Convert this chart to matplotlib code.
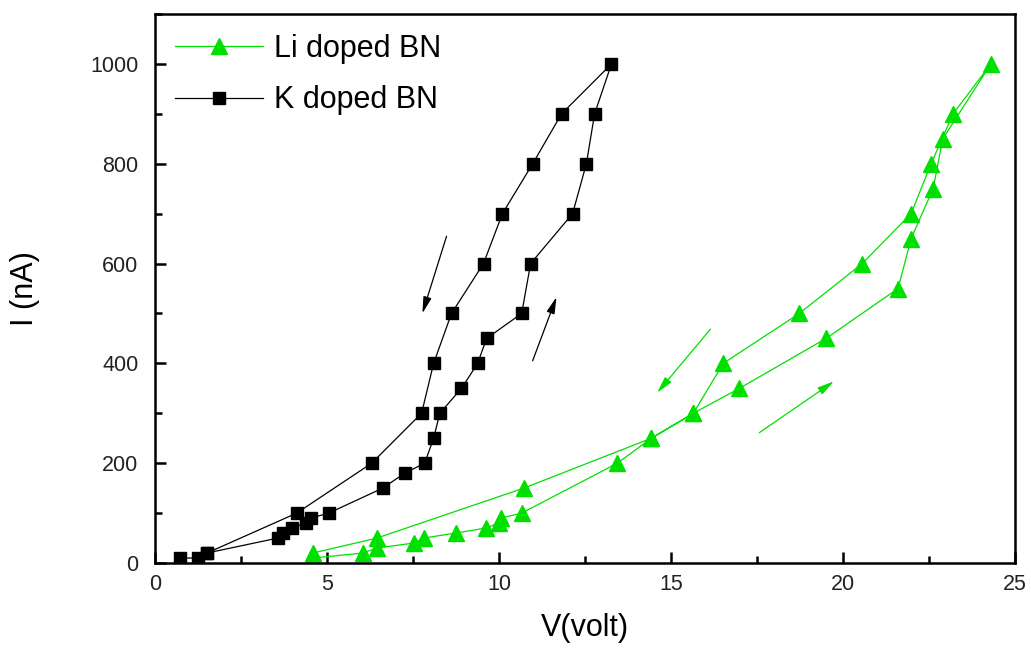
import matplotlib
matplotlib.use("Agg")
import matplotlib.pyplot as plt
from matplotlib.ticker import MultipleLocator

plt.rcParams['font.family'] = ['Liberation Sans', 'DejaVu Sans']

# Li doped BN: up sweep then down sweep (V in volt, I in nA)
li_v = [4.59, 6.04, 6.45, 7.52, 7.81, 8.74, 9.61, 10.0, 10.05, 10.66,
        13.44, 14.43, 15.65, 16.99, 19.51, 21.6, 21.98, 22.62, 22.9, 24.3,
        23.2, 22.56, 21.98, 20.56, 18.73, 16.52, 15.65, 14.43, 10.72, 6.45, 4.59]
li_i = [10, 20, 30, 40, 50, 60, 70, 80, 90, 100,
        200, 250, 300, 350, 450, 550, 650, 750, 850, 1000,
        900, 800, 700, 600, 500, 400, 300, 250, 150, 50, 20]

# K doped BN: up sweep then down sweep
k_v = [0.73, 1.25, 1.51, 3.57, 3.72, 3.98, 4.38, 4.53, 5.05, 6.62, 7.26, 7.84,
       8.1, 8.28, 8.91, 9.38, 9.64, 10.66, 10.92, 12.14, 12.54, 12.78, 13.27,
       11.82, 10.98, 10.1, 9.55, 8.62, 8.1, 7.75, 6.3, 4.12, 1.51]
k_i = [10, 10, 20, 50, 60, 70, 80, 90, 100, 150, 180, 200,
       250, 300, 350, 400, 450, 500, 600, 700, 800, 900, 1000,
       900, 800, 700, 600, 500, 400, 300, 200, 100, 20]

# sweep direction arrows: (tail, head)
k_arrows = [((8.5, 660), (7.75, 495)), ((10.95, 400), (11.7, 538))]
li_arrows = [((16.2, 473), (14.55, 337)), ((17.5, 258), (19.8, 367))]

green = '#00e000'

fig = plt.figure(figsize=(10.31, 6.5), dpi=100)
ax = fig.add_axes([0.1503, 0.1338, 0.8342, 0.8447])

ax.plot(li_v, li_i, color=green, lw=0.9, marker='^', ms=12,
        mfc=green, mec=green, label='Li doped BN')
ax.plot(k_v, k_i, color='black', lw=0.9, marker='s', ms=9,
        mfc='black', mec='black', label='K doped BN')

arrow_style = '-|>,head_length=1.0,head_width=0.25'
for tail, head in k_arrows:
    ax.annotate('', xy=head, xytext=tail,
                arrowprops=dict(arrowstyle=arrow_style, color='black', lw=0.9))
for tail, head in li_arrows:
    ax.annotate('', xy=head, xytext=tail,
                arrowprops=dict(arrowstyle=arrow_style, color=green, lw=0.9))

ax.set_xlim(0, 25)
ax.set_ylim(0, 1100)
ax.xaxis.set_major_locator(MultipleLocator(5))
ax.xaxis.set_minor_locator(MultipleLocator(2.5))
ax.yaxis.set_major_locator(MultipleLocator(200))
ax.yaxis.set_minor_locator(MultipleLocator(100))
ax.tick_params(which='both', direction='in', width=1.8, top=False, right=False,
               labelsize=15.5, labelcolor='#222222')
ax.tick_params(axis='y', pad=12)
ax.tick_params(axis='x', pad=8)
ax.tick_params(which='major', length=8)
ax.tick_params(which='minor', length=5)
for sp in ax.spines.values():
    sp.set_linewidth(1.8)

ax.set_xlabel('V(volt)', fontsize=22, labelpad=13)
ax.set_ylabel('I (nA)', fontsize=22, labelpad=36)

ax.legend(loc='upper left', frameon=False, fontsize=22, handlelength=2.9,
          labelspacing=0.7, borderaxespad=0.25, handletextpad=0.35,
          bbox_to_anchor=(0.0, 1.0))

fig.savefig('out.png', dpi=100)
